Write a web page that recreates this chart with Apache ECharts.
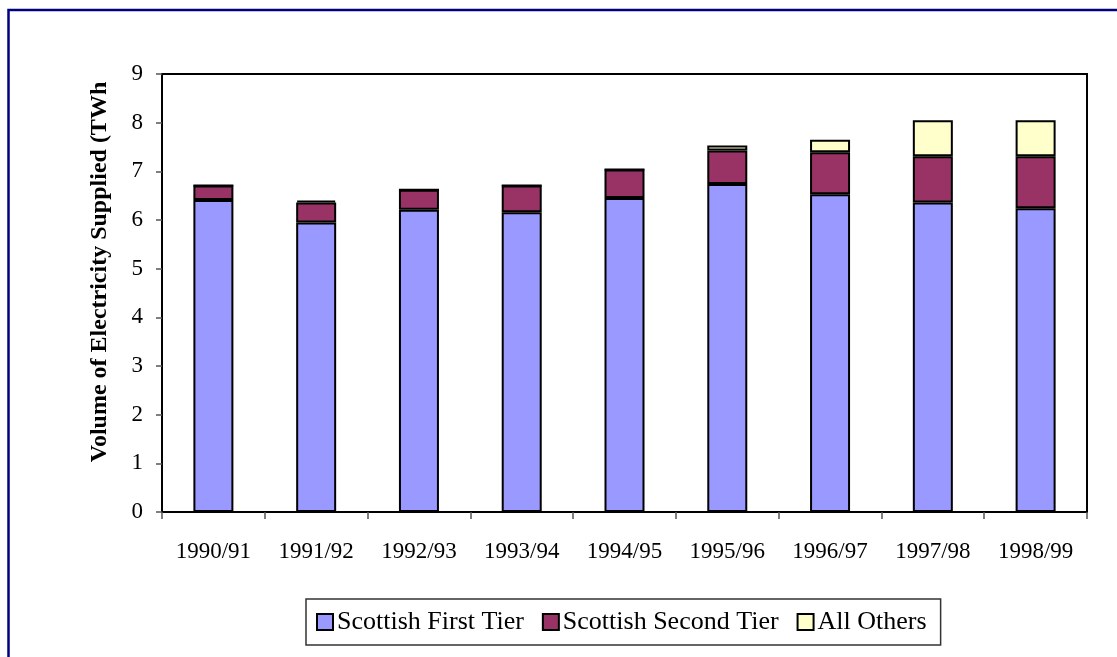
<!DOCTYPE html>
<html>
<head>
<meta charset="utf-8">
<script src="https://cdn.jsdelivr.net/npm/echarts@6/dist/echarts.min.js"></script>
<style>
  html, body { margin: 0; padding: 0; background: #ffffff; }
  #chart { width: 1117px; height: 657px; }
</style>
</head>
<body>
<div id="chart"></div>
<script>
// Financial years on the category axis
const years = ['1990/91', '1991/92', '1992/93', '1993/94', '1994/95', '1995/96', '1996/97', '1997/98', '1998/99'];

// Volume of electricity supplied (TWh) by supplier group
const firstTier  = [6.41, 5.95, 6.21, 6.16, 6.45, 6.74, 6.53, 6.36, 6.24];
const secondTier = [0.30, 0.41, 0.41, 0.55, 0.59, 0.69, 0.86, 0.95, 1.07];
const allOthers  = [0.00, 0.04, 0.00, 0.00, 0.00, 0.10, 0.26, 0.74, 0.74];

const seriesNames = ['Scottish First Tier', 'Scottish Second Tier', 'All Others'];
const seriesColors = ['#9999FF', '#993366', '#FFFFCC'];
const seriesData = [firstTier, secondTier, allOthers];

const yTitle = 'Volume of Electricity Supplied (TWh';

const serif = '"Liberation Serif", "Times New Roman", serif';

const chart = echarts.init(document.getElementById('chart'), null, { renderer: 'canvas' });

chart.setOption({
  animation: false,
  backgroundColor: '#ffffff',
  textStyle: { fontFamily: serif, color: '#000000' },
  graphic: [
    {
      type: 'rect',
      shape: { x: 8.5, y: 10, width: 1200, height: 800 },
      style: { fill: 'none', stroke: '#000080', lineWidth: 2.5 },
      silent: true
    },
    {
      type: 'text',
      x: 100,
      y: 272,
      rotation: Math.PI / 2,
      style: {
        text: yTitle,
        font: 'bold 24px ' + serif,
        fill: '#000000',
        align: 'center',
        verticalAlign: 'middle'
      },
      silent: true
    }
  ],
  grid: {
    left: 162,
    top: 74,
    right: 30,
    bottom: 145,
    show: true,
    borderColor: '#000000',
    borderWidth: 2,
    backgroundColor: '#ffffff'
  },
  legend: {
    left: 306,
    top: 599,
    orient: 'horizontal',
    data: seriesNames,
    icon: 'rect',
    itemWidth: 16,
    itemHeight: 16,
    itemGap: 18,
    padding: [10, 14, 10, 10],
    borderColor: '#333333',
    borderWidth: 1.5,
    backgroundColor: '#ffffff',
    itemStyle: { borderColor: '#000000', borderWidth: 2 },
    textStyle: { fontFamily: serif, fontSize: 26, color: '#000000', padding: [0, 0, 0, -1] }
  },
  xAxis: {
    type: 'category',
    data: years,
    axisLine: { lineStyle: { color: '#000000', width: 2 } },
    axisTick: { show: true, alignWithLabel: false, length: 7, lineStyle: { color: '#555555', width: 1.5 } },
    axisLabel: { fontFamily: serif, fontSize: 23, color: '#000000', margin: 28 },
    splitLine: { show: false }
  },
  yAxis: {
    type: 'value',
    min: 0,
    max: 9,
    interval: 1,
    axisLine: { show: true, lineStyle: { color: '#000000', width: 2 } },
    axisTick: { show: true, length: 6, lineStyle: { color: '#555555', width: 1.5 } },
    axisLabel: { fontFamily: serif, fontSize: 23, color: '#000000', margin: 19 },
    splitLine: { show: false }
  },
  series: seriesNames.map((name, i) => ({
    name: name,
    type: 'bar',
    stack: 'supply',
    barWidth: 40,
    data: seriesData[i],
    itemStyle: { color: seriesColors[i], borderColor: '#000000', borderWidth: 2 },
    emphasis: { disabled: true }
  }))
});
</script>
</body>
</html>
